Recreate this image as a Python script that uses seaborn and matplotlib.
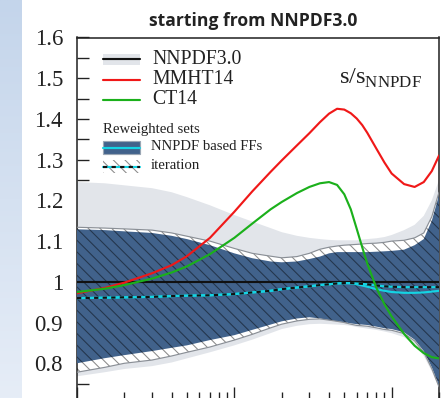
import numpy as np
import pandas as pd
import matplotlib
matplotlib.use("Agg")
import matplotlib.pyplot as plt
from matplotlib.lines import Line2D
from matplotlib.patches import Rectangle
from matplotlib.colors import LinearSegmentedColormap
from matplotlib.ticker import MultipleLocator, LogLocator, FuncFormatter, NullFormatter
import seaborn as sns

# ---------------------------------------------------------------- data
x = [0.001, 0.0015, 0.002, 0.003, 0.004, 0.005, 0.007, 0.01, 0.013, 0.017,
     0.02, 0.025, 0.03, 0.035, 0.04, 0.045, 0.05, 0.055, 0.06, 0.065,
     0.07, 0.08, 0.09, 0.1, 0.12, 0.14, 0.16, 0.18, 0.2]

mmht14 = [0.972, 0.985, 0.998, 1.021, 1.041, 1.063, 1.108, 1.172, 1.222, 1.270,
          1.298, 1.335, 1.365, 1.392, 1.413, 1.425, 1.423, 1.414, 1.401, 1.385,
          1.366, 1.327, 1.293, 1.266, 1.240, 1.233, 1.245, 1.272, 1.310]

ct14 = [0.975, 0.983, 0.992, 1.008, 1.023, 1.038, 1.068, 1.108, 1.143, 1.178,
        1.196, 1.218, 1.233, 1.242, 1.245, 1.238, 1.215, 1.178, 1.130, 1.085,
        1.045, 0.985, 0.945, 0.915, 0.872, 0.843, 0.825, 0.815, 0.812]

nnpdf30_hi = [1.245, 1.242, 1.237, 1.230, 1.220, 1.208, 1.188, 1.164, 1.148, 1.132,
              1.122, 1.113, 1.108, 1.105, 1.103, 1.102, 1.102, 1.102, 1.102, 1.104,
              1.105, 1.107, 1.110, 1.115, 1.127, 1.140, 1.162, 1.200, 1.250]
nnpdf30_lo = [0.768, 0.778, 0.786, 0.793, 0.802, 0.812, 0.827, 0.844, 0.858, 0.874,
              0.884, 0.892, 0.896, 0.897, 0.896, 0.895, 0.894, 0.892, 0.889, 0.887,
              0.885, 0.882, 0.878, 0.874, 0.864, 0.845, 0.818, 0.780, 0.740]

ffs_hi = [1.129, 1.127, 1.124, 1.120, 1.113, 1.105, 1.090, 1.070, 1.058, 1.050,
          1.048, 1.050, 1.056, 1.062, 1.070, 1.073, 1.073, 1.073, 1.073, 1.073,
          1.073, 1.074, 1.075, 1.076, 1.079, 1.090, 1.105, 1.150, 1.213]
ffs_lo = [0.800, 0.8125, 0.820, 0.830, 0.838, 0.844, 0.857, 0.869, 0.882, 0.895,
          0.903, 0.910, 0.913, 0.910, 0.906, 0.903, 0.901, 0.898, 0.896, 0.895,
          0.894, 0.890, 0.886, 0.884, 0.876, 0.858, 0.830, 0.790, 0.745]
ffs_cv = [0.960, 0.961, 0.962, 0.963, 0.965, 0.966, 0.967, 0.970, 0.974, 0.978,
          0.982, 0.986, 0.989, 0.992, 0.994, 0.996, 0.997, 0.996, 0.994, 0.991,
          0.988, 0.982, 0.978, 0.975, 0.973, 0.973, 0.974, 0.976, 0.978]

iter_hi = [1.134, 1.132, 1.130, 1.127, 1.120, 1.112, 1.100, 1.082, 1.070, 1.063,
           1.059, 1.062, 1.070, 1.080, 1.085, 1.088, 1.090, 1.091, 1.092, 1.093,
           1.094, 1.095, 1.097, 1.100, 1.102, 1.108, 1.120, 1.160, 1.220]
iter_lo = [0.778, 0.790, 0.800, 0.808, 0.818, 0.827, 0.840, 0.857, 0.871, 0.887,
           0.896, 0.904, 0.908, 0.909, 0.906, 0.903, 0.900, 0.896, 0.893, 0.892,
           0.891, 0.887, 0.883, 0.881, 0.873, 0.855, 0.827, 0.787, 0.742]
iter_cv = [0.960, 0.961, 0.962, 0.963, 0.965, 0.966, 0.967, 0.970, 0.974, 0.978,
           0.982, 0.986, 0.989, 0.992, 0.994, 0.996, 0.997, 0.997, 0.996, 0.995,
           0.994, 0.991, 0.989, 0.988, 0.987, 0.987, 0.987, 0.987, 0.987]

# ---------------------------------------------------------------- style
GREY = "#e2e5ea"
BLUE = "#41628b"
CYAN = "#14d4e4"
RED = "#f01818"
GREEN = "#1bb01b"
HATCH_INK = (0, 0, 0, 0.45)
HATCH = "\\\\\\\\"

sns.set_theme(style="white")
plt.rcParams["font.family"] = ["Liberation Serif", "DejaVu Serif"]
plt.rcParams["mathtext.fontset"] = "custom"
plt.rcParams["mathtext.rm"] = "Liberation Serif"
plt.rcParams["hatch.linewidth"] = 0.55

DPI = 140
W, H = 448, 398
fig = plt.figure(figsize=(W / DPI, H / DPI), dpi=DPI)
fig.patch.set_facecolor("white")


def fx(px):
    return px / W


def fy(py):
    return 1 - py / H


# slide side strip
strip = fig.add_axes([0, 0, fx(22), 1], zorder=0)
strip.imshow(np.linspace(0, 1, 256)[:, None], aspect="auto", origin="upper",
             cmap=LinearSegmentedColormap.from_list("strip", ["#c4d5eb", "#e6edf7"]),
             extent=[0, 1, 0, 1])
strip.axis("off")

ax = fig.add_axes([fx(77), fy(404), fx(439) - fx(77), fy(37.5) - fy(404)], zorder=1)
ax.set_xscale("log")
ax.set_facecolor("white")

# NNPDF3.0 band
ax.fill_between(x, nnpdf30_lo, nnpdf30_hi, facecolor=GREY, edgecolor="none", zorder=1)
# iteration band (white body, hatched)
ax.fill_between(x, iter_lo, iter_hi, facecolor="white", edgecolor="none", zorder=2)
# reweighted NNPDF-based FFs band
ax.fill_between(x, ffs_lo, ffs_hi, facecolor=BLUE, edgecolor="none", zorder=3)
ax.fill_between(x, iter_lo, iter_hi, facecolor="none", edgecolor=HATCH_INK,
                hatch=HATCH, linewidth=0, zorder=4)
for edge in (iter_lo, iter_hi):
    sns.lineplot(x=x, y=edge, color="#8a8f96", lw=0.6, ax=ax, zorder=4.5)

ax.axhline(1.0, color="#111111", lw=1.1, zorder=5)
sns.lineplot(x=x, y=ffs_cv, color=CYAN, lw=1.1, ax=ax, zorder=6)
sns.lineplot(x=x, y=iter_cv, color=CYAN, lw=1.1, ax=ax, zorder=6)
sns.lineplot(x=x, y=iter_cv, color="#111111", lw=1.1, ax=ax, zorder=7,
             linestyle=(0, (2, 2)))
sns.lineplot(x=x, y=mmht14, color=RED, lw=1.1, ax=ax, zorder=8)
sns.lineplot(x=x, y=ct14, color=GREEN, lw=1.1, ax=ax, zorder=8)

ax.set_xlim(1e-3, 0.2)
ax.set_ylim(0.7, 1.6)
ax.set_xlabel("")
ax.set_ylabel("")

ax.yaxis.set_major_locator(MultipleLocator(0.1))
ax.yaxis.set_minor_locator(MultipleLocator(0.05))
ax.yaxis.set_major_formatter(FuncFormatter(lambda v, p: "" if v < 0.75 else f"{v:g}"))
ax.xaxis.set_major_locator(LogLocator(base=10))
ax.xaxis.set_minor_locator(LogLocator(base=10, subs=np.arange(2, 10)))
ax.xaxis.set_minor_formatter(NullFormatter())
ax.tick_params(axis="both", which="both", direction="in", top=False, right=False,
               color="#222222", width=0.7)
ax.tick_params(axis="y", which="both", length=6.3, pad=7.2, labelsize=11.7,
               labelcolor="#222222", left=True)
ax.tick_params(axis="x", which="major", length=8.8, labelbottom=False, bottom=True)
ax.tick_params(axis="x", which="minor", length=6.2, bottom=True)
for s in ax.spines.values():
    s.set_color("#222222")
    s.set_linewidth(0.8)

# ---------------------------------------------------------------- legend
LEG = 10.2
hx0, hx1, tx = 103, 140, 152
fig.add_artist(Rectangle((fx(hx0), fy(64.5)), fx(hx1) - fx(hx0), fy(54) - fy(64.5),
                         transform=fig.transFigure, facecolor=GREY, edgecolor="none", zorder=10))
for py, col, lab in [(59, "#111111", "NNPDF3.0"), (80, RED, "MMHT14"), (100, GREEN, "CT14")]:
    fig.add_artist(Line2D([fx(hx0), fx(hx1)], [fy(py), fy(py)], transform=fig.transFigure,
                          color=col, lw=1.1, zorder=11))
    fig.text(fx(tx), fy(py), lab, ha="left", va="center", fontsize=LEG, color="#222222", zorder=11)

fig.text(fx(103), fy(129), "Reweighted sets", ha="left", va="center", fontsize=7.6,
         color="#222222", zorder=11)
fig.add_artist(Rectangle((fx(hx0), fy(154)), fx(hx1) - fx(hx0), fy(141) - fy(154),
                         transform=fig.transFigure, facecolor=BLUE, edgecolor="#9aa6b4",
                         lw=0.6, zorder=10))
fig.add_artist(Line2D([fx(hx0), fx(hx1)], [fy(147.5), fy(147.5)], transform=fig.transFigure,
                      color=CYAN, lw=1.1, zorder=11))
fig.text(fx(151), fy(147), "NNPDF based FFs", ha="left", va="center", fontsize=7.6,
         color="#222222", zorder=11)

fig.add_artist(Rectangle((fx(hx0), fy(173)), fx(hx1) - fx(hx0), fy(160) - fy(173),
                         transform=fig.transFigure, facecolor="white", edgecolor=HATCH_INK,
                         hatch=HATCH, lw=0, zorder=10))
fig.add_artist(Line2D([fx(hx0), fx(hx1)], [fy(166.5), fy(166.5)], transform=fig.transFigure,
                      color=CYAN, lw=1.1, zorder=11))
fig.add_artist(Line2D([fx(hx0), fx(hx1)], [fy(166.5), fy(166.5)], transform=fig.transFigure,
                      color="#111111", lw=1.1, linestyle=(0, (2, 2)), zorder=12))
fig.text(fx(151), fy(166), "iteration", ha="left", va="center", fontsize=7.6,
         color="#222222", zorder=11)

fig.text(fx(422), fy(84), r"s/s$_{\mathrm{NNPDF}}$", ha="right", va="baseline",
         fontsize=12.5, color="#222222", zorder=11)

fig.text(fx(253), fy(26), "starting from NNPDF3.0", ha="center", va="baseline",
         fontsize=9.0, fontweight="bold", family=["Open Sans", "DejaVu Sans"], color="#222222")

fig.savefig("out.png", dpi=DPI, facecolor="white")
